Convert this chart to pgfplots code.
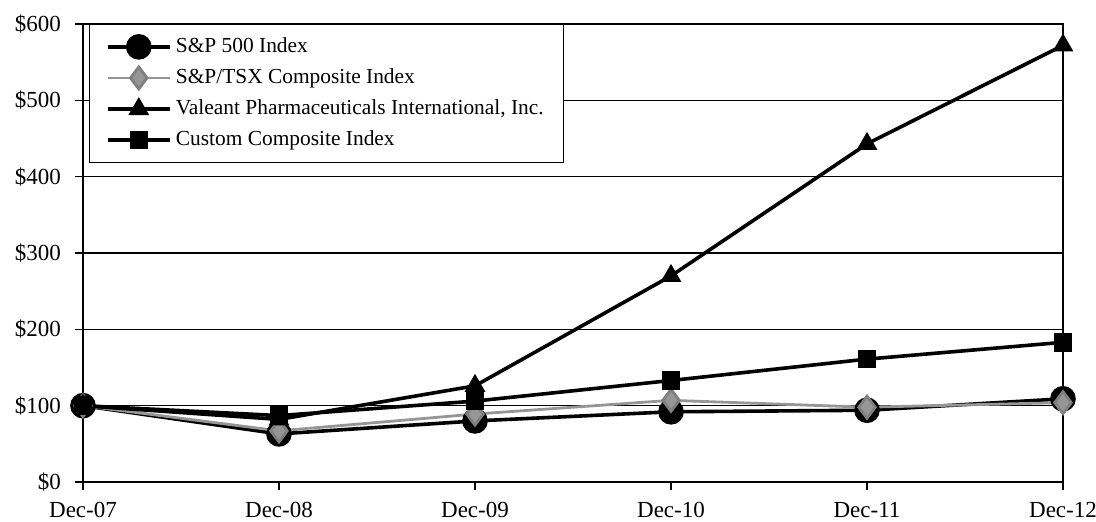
\documentclass[border=0pt]{standalone}
\usepackage{pgfplots}
\pgfplotsset{compat=1.18}
\usepackage{fontspec}
\setmainfont{Liberation Serif}
\definecolor{tsxgray}{RGB}{150,150,150}
\begin{document}
\fontsize{11.5}{13.5}\selectfont
\begin{tikzpicture}
\path[use as bounding box] (-41.5pt,-19.5pt) rectangle (506.5pt,241pt);
\begin{axis}[
  scale only axis, width=490pt, height=229pt,
  xmin=0, xmax=5, ymin=0, ymax=600,
  xtick={0,1,2,3,4,5},
  xticklabels={Dec-07,Dec-08,Dec-09,Dec-10,Dec-11,Dec-12},
  ytick={0,100,200,300,400,500,600},
  yticklabels={\$0,\$100,\$200,\$300,\$400,\$500,\$600},
  tick align=outside, major tick length=4pt,
  xtick pos=bottom, ytick pos=left,
  ymajorgrids, grid style={black, line width=0.7pt},
  axis line style={line width=0.8pt},
  every tick/.style={black, line width=0.7pt},
  tick label style={font=\fontsize{11.5}{13.5}\selectfont},
  yticklabel style={xshift=-3pt},
  xticklabel style={yshift=-2pt},
  /pgf/number format/assume math mode=true,
  clip=false,
  legend cell align=left,
  legend style={at={(axis description cs:0,1)}, anchor=north west, xshift=3pt,
    draw=black, line width=0.7pt, fill=white,
    font=\fontsize{10.7}{13}\selectfont,
    row sep=2.4pt, inner xsep=8pt, inner ysep=4.5pt},
  legend image code/.code={
    \draw[mark repeat=2,mark phase=2] plot coordinates {(0cm,0cm) (0.55cm,0cm) (1.1cm,0cm)};
  },
]
\addplot[black, line width=1.8pt, mark=*, mark size=5.5pt, mark options={solid, fill=black}]
  coordinates {(0,100) (1,63) (2,80) (3,92) (4,94) (5,109)};
\addlegendentry{S\&P 500 Index}
\addplot[tsxgray, line width=1.4pt, mark=diamond*, mark size=5.5pt, mark options={solid, fill=tsxgray, draw=gray}]
  coordinates {(0,100) (1,67) (2,89) (3,107) (4,98) (5,104)};
\addlegendentry{S\&P/TSX Composite Index}
\addplot[black, line width=1.8pt, mark=triangle*, mark size=4.2pt, mark options={solid, fill=black}]
  coordinates {(0,100) (1,82) (2,126) (3,270) (4,443) (5,572)};
\addlegendentry{Valeant Pharmaceuticals International, Inc.}
\addplot[black, line width=1.8pt, mark=square*, mark size=3.7pt, mark options={solid, fill=black}]
  coordinates {(0,100) (1,87) (2,106) (3,133) (4,161) (5,183)};
\addlegendentry{Custom Composite Index}
\end{axis}
\end{tikzpicture}
\end{document}
